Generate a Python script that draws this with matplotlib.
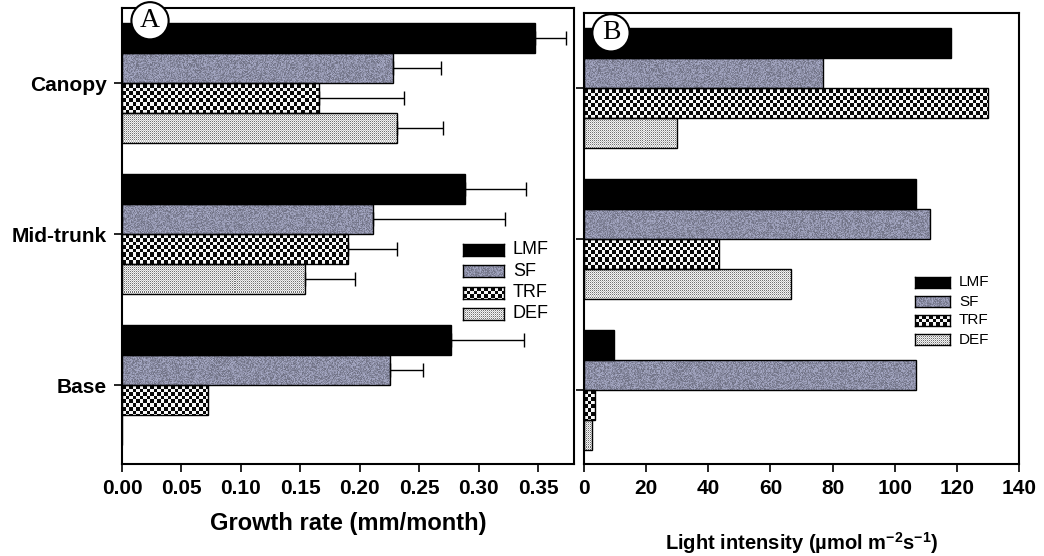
import numpy as np
import matplotlib
matplotlib.use('Agg')
import matplotlib.pyplot as plt

plt.rcParams['font.family'] = ['Liberation Sans', 'DejaVu Sans']
plt.rcParams['font.weight'] = 'bold'
plt.rcParams['mathtext.fontset'] = 'custom'
plt.rcParams['mathtext.rm'] = 'Liberation Sans:bold'
plt.rcParams['mathtext.bf'] = 'Liberation Sans:bold'
plt.rcParams['mathtext.default'] = 'bf'

# ---- data ----
sites = ['Canopy', 'Mid-trunk', 'Base']
forests = ['LMF', 'SF', 'TRF', 'DEF']

growth_lmf = [0.347, 0.288, 0.277]
growth_sf  = [0.228, 0.211, 0.225]
growth_trf = [0.166, 0.190, 0.072]
growth_def = [0.231, 0.154, 0.0]

err_lmf = [0.026, 0.052, 0.061]
err_sf  = [0.040, 0.111, 0.028]
err_trf = [0.071, 0.041, 0.0]
err_def = [0.039, 0.042, 0.0]

light_lmf = [118, 107, 9.5]
light_sf  = [77, 111.5, 107]
light_trf = [130, 43.5, 3.5]
light_def = [30, 66.5, 2.5]

growth_ticks = [0.0, 0.05, 0.10, 0.15, 0.20, 0.25, 0.30, 0.35]
light_ticks = [0, 20, 40, 60, 80, 100, 120, 140]

W, H = 1044, 556
ypos = np.array([2, 1, 0])
offs = [0.3, 0.1, -0.1, -0.3]
bh = 0.2


def texture(kind, h, w):
    i, j = np.mgrid[0:h, 0:w]
    if kind == 'LMF':
        return np.zeros((h, w, 3))
    if kind == 'SF':
        n = np.sin(i * 12.9898 + j * 78.233) * 43758.5453
        n = n - np.floor(n)
        f = 0.72 + 0.38 * n
        base = np.array([0.60, 0.61, 0.71])
        return np.clip(f[..., None] * base, 0, 1)
    if kind == 'TRF':
        c = ((i * 2) // 7 + (j * 2) // 7) % 2
        g = np.where(c == 1, 0.97, 0.03)
    else:
        g = np.full((h, w), 0.96)
        g[(i % 2 == 0) & (j % 2 == 0)] = 0.45
        g[(i % 2 == 1) & (j % 2 == 1)] = 0.75
    return np.dstack([g, g, g])


def panel(ax, series, xlim, ylim):
    pos = ax.get_position()
    wpx = int(round(pos.width * W))
    hpx = int(round(pos.height * H))
    for k, kind in enumerate(forests):
        vals = series[k]
        fc = 'black' if kind == 'LMF' else 'none'
        bars = ax.barh(ypos + offs[k], vals, height=bh, facecolor=fc,
                       edgecolor='black', linewidth=1, zorder=3)
        if kind == 'LMF':
            continue
        for b, v in zip(bars, vals):
            if v <= 0:
                continue
            im = ax.imshow(texture(kind, hpx, wpx),
                           extent=(xlim[0], xlim[1], ylim[0], ylim[1]),
                           aspect='auto', interpolation='nearest', zorder=2)
            im.set_clip_path(b)
    ax.set_xlim(xlim)
    ax.set_ylim(ylim)
    for s in ax.spines.values():
        s.set_linewidth(1.5)
    ax.tick_params(axis='both', direction='out', length=6, width=1.2,
                   labelsize=15, pad=5)


def swatch(kind, x, y, w, h):
    sa = fig.add_axes([x / W, 1 - (y + h) / H, w / W, h / H])
    sa.imshow(texture(kind, h, w), aspect='auto', interpolation='nearest')
    sa.set_xticks([])
    sa.set_yticks([])
    for s in sa.spines.values():
        s.set_linewidth(1)


fig = plt.figure(figsize=(W / 100, H / 100), dpi=100)

# ---- panel A: growth rate ----
axA = fig.add_axes([122 / W, 1 - 464 / H, 452 / W, 456 / H])
panel(axA, [growth_lmf, growth_sf, growth_trf, growth_def],
      (0, 0.38), (-0.523, 2.497))
for k, (vals, errs) in enumerate([(growth_lmf, err_lmf), (growth_sf, err_sf),
                                  (growth_trf, err_trf), (growth_def, err_def)]):
    vals = np.array(vals)
    errs = np.array(errs)
    m = errs > 0
    axA.errorbar(vals[m], (ypos + offs[k])[m],
                 xerr=[np.zeros(m.sum()), errs[m]], fmt='none',
                 ecolor='black', elinewidth=1, capsize=5, capthick=1, zorder=4)
axA.set_xticks(growth_ticks, ['%.2f' % t for t in growth_ticks])
axA.set_yticks(ypos, sites)
axA.set_xlabel('Growth rate (mm/month)', fontsize=17, fontweight='bold')
axA.xaxis.set_label_coords(0.5, -0.105)
axA.text(0.062, 0.972, 'A', transform=axA.transAxes, ha='center',
         va='center', fontsize=20, fontweight='normal',
         family='Liberation Serif', zorder=6,
         bbox=dict(boxstyle='circle,pad=0.22', fc='white', ec='black', lw=1.5))

# ---- panel B: light intensity ----
axB = fig.add_axes([584 / W, 1 - 464 / H, 435 / W, 451 / H])
panel(axB, [light_lmf, light_sf, light_trf, light_def],
      (0, 140), (-0.49, 2.497))
axB.set_xticks(light_ticks, [str(t) for t in light_ticks])
axB.set_yticks(ypos, [])
axB.set_xlabel('Light intensity (\u00b5mol m$^{-2}$s$^{-1}$)', fontsize=14.5,
               fontweight='bold')
axB.xaxis.set_label_coords(0.5, -0.146)
axB.text(0.062, 0.956, 'B', transform=axB.transAxes, ha='center',
         va='center', fontsize=20, fontweight='normal',
         family='Liberation Serif', zorder=6,
         bbox=dict(boxstyle='circle,pad=0.22', fc='white', ec='black', lw=1.5))

# ---- legends ----
for k, kind in enumerate(forests):
    y = 244 + k * 21.3
    swatch(kind, 463, y, 41, 12)
    fig.text(513 / W, 1 - (y + 6) / H, kind, va='center', ha='left',
             fontsize=13, fontweight='normal')
for k, kind in enumerate(forests):
    y = 277 + k * 19
    swatch(kind, 915, y, 35, 11)
    fig.text(959 / W, 1 - (y + 5.5) / H, kind, va='center', ha='left',
             fontsize=11, fontweight='normal')

fig.savefig('out.png', dpi=100)
